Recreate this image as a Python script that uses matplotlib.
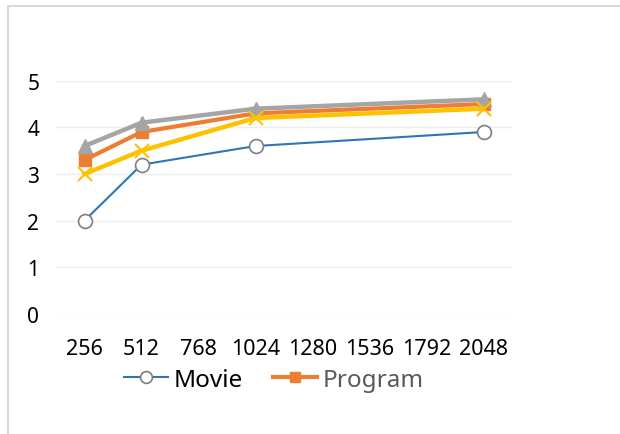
import matplotlib
matplotlib.use("Agg")
import matplotlib.pyplot as plt
from matplotlib.patches import Rectangle

plt.rcParams['font.family'] = ['Noto Sans', 'DejaVu Sans']

# Block sizes on the category axis and score per series
categories = ["256", "512", "768", "1024", "1280", "1536", "1792", "2048"]
x_labels_used = ["256", "512", "1024", "2048"]
movie = [2.0, 3.2, 3.6, 3.9]
program = [3.3, 3.9, 4.3, 4.5]
series3 = [3.6, 4.1, 4.4, 4.6]
series4 = [3.0, 3.5, 4.2, 4.4]
y_ticks = [0, 1, 2, 3, 4, 5]

xpos = [categories.index(c) for c in x_labels_used]

fig = plt.figure(figsize=(6.2, 4.35), dpi=100)
fig.patch.set_facecolor("white")
# light frame around the chart area
fig.add_artist(Rectangle((8 / 620, -0.05), 1.1, (435 - 7) / 435 + 0.05,
                         transform=fig.transFigure, fill=False,
                         edgecolor="#d9d9d9", linewidth=1.5))

ax = fig.add_axes([56 / 620, (435 - 315) / 435, 456 / 620, 233.3 / 435])

l_movie, = ax.plot(xpos, movie, color="#2E75B6", linewidth=1.5, marker="o",
                   markersize=10, markerfacecolor="white",
                   markeredgecolor="#7F7F7F", markeredgewidth=1.2, zorder=3)
l_prog, = ax.plot(xpos, program, color="#ED7D31", linewidth=3.0, marker="s",
                  markersize=9, markerfacecolor="#ED7D31",
                  markeredgecolor="#ED7D31", zorder=4)
l_s3, = ax.plot(xpos, series3, color="#A5A5A5", linewidth=3.2, marker="^",
                markersize=10, markerfacecolor="#A5A5A5",
                markeredgecolor="#A5A5A5", zorder=5)
l_s4, = ax.plot(xpos, series4, color="#FFC000", linewidth=3.2, marker="x",
                markersize=10, markeredgecolor="#FFC000",
                markeredgewidth=1.5, zorder=6)

ax.set_xlim(-0.5, len(categories) - 0.5)
ax.set_ylim(0, 5)
ax.set_xticks(range(len(categories)))
ax.set_xticklabels(categories)
ax.set_yticks(y_ticks)
ax.tick_params(axis="x", length=0, pad=17, labelsize=15.5, labelcolor="black")
ax.tick_params(axis="y", length=0, pad=12, labelsize=15, labelcolor="black")
ax.grid(axis="y", color="#eeeeee", linewidth=1.0)
ax.set_axisbelow(True)
for s in ax.spines.values():
    s.set_visible(False)

leg = fig.legend([l_movie, l_prog], ["Movie", "Program"], ncol=2,
                 loc="center", bbox_to_anchor=(274 / 620, 1 - 381 / 435),
                 frameon=False, fontsize=17.5, handlelength=1.8,
                 handletextpad=0.25, columnspacing=1.25, borderpad=0,
                 markerscale=0.85)
leg.get_texts()[0].set_color("black")
leg.get_texts()[1].set_color("#595959")

fig.savefig("out.png", dpi=100)
